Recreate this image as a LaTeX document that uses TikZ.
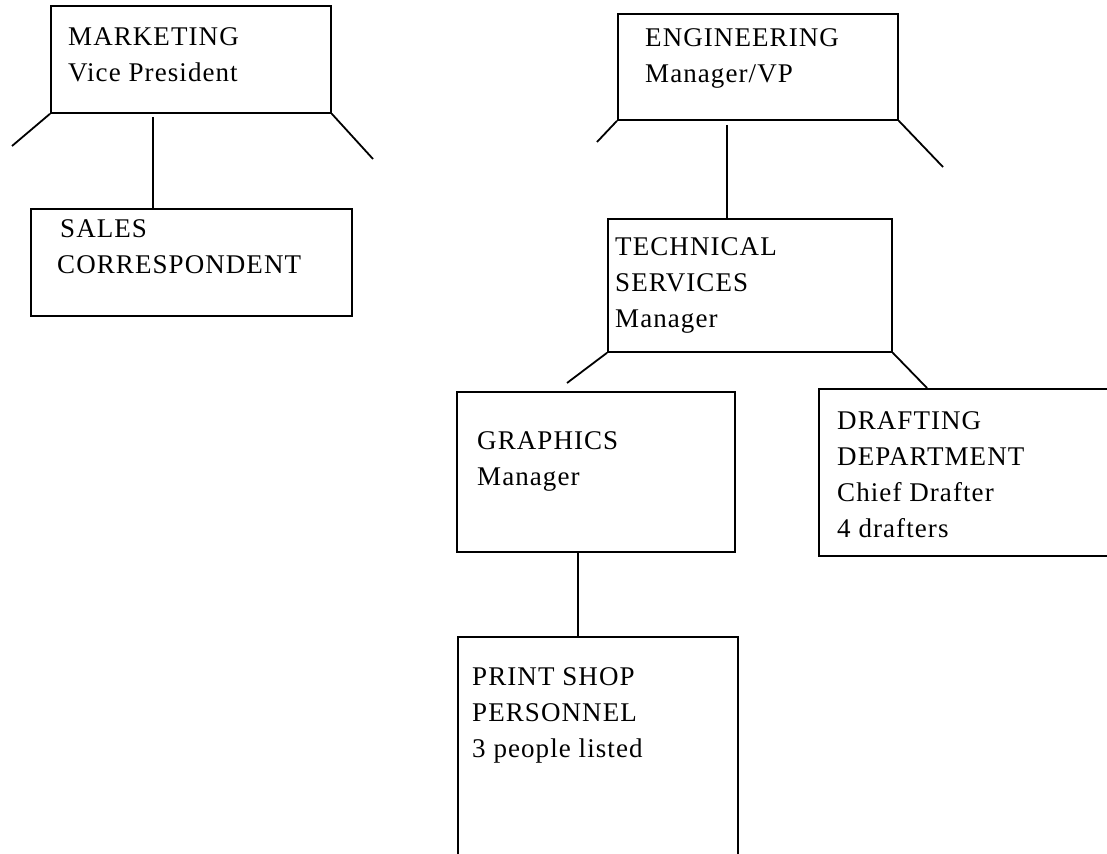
\documentclass[tikz,border=0pt]{standalone}
\usepackage{fontspec}
\newfontfamily\lbfont{Liberation Serif}[LetterSpace=4]
\begin{document}
\begin{tikzpicture}[x=1pt,y=-1pt,
  box/.style={draw, line width=1.8pt, inner sep=0pt, anchor=north west},
  lbl/.style={anchor=base west, align=left, inner sep=0pt, font=\lbfont\fontsize{27}{36}\selectfont},
  link/.style={line width=1.8pt}]
\useasboundingbox (0,0) rectangle (1107,853);
\clip (0,0) rectangle (1107,853);
% boxes
\node[box, minimum width=280pt, minimum height=107pt] (mkt) at (50,5) {};
\node[box, minimum width=321pt, minimum height=107pt] (sales) at (30,208) {};
\node[box, minimum width=280pt, minimum height=106pt] (eng) at (617,13) {};
\node[box, minimum width=284pt, minimum height=133pt] (tech) at (607,218) {};
\node[box, minimum width=278pt, minimum height=160pt] (graph) at (456,391) {};
\node[box, minimum width=310pt, minimum height=167pt] (draft) at (818,388) {};
\node[box, minimum width=280pt, minimum height=240pt] (print) at (457,636) {};
% labels (anchored at the baseline of the last line)
\node[lbl] (tmkt) at (68,82) {MARKETING\\Vice President};
\node[lbl] (tsales) at (57,273) {\hspace{3pt}SALES\\CORRESPONDENT};
\node[lbl] (teng) at (645,83) {ENGINEERING\\Manager/VP};
\node[lbl] (ttech) at (615,327) {TECHNICAL\\SERVICES\\Manager};
\node[lbl] (tgraph) at (477,485) {GRAPHICS\\Manager};
\node[lbl] (tdraft) at (837,537) {DRAFTING\\DEPARTMENT\\Chief Drafter\\4 drafters};
\node[lbl] (tprint) at (472,757) {PRINT SHOP\\PERSONNEL\\3 people listed};
% stub ends
\coordinate (mL) at (12,146);
\coordinate (mR) at (373,159);
\coordinate (mV) at (153,117);
\coordinate (eL) at (597,142);
\coordinate (eR) at (943,167);
\coordinate (eV) at (727,125);
\coordinate (tL) at (567,383);
\coordinate (tR) at (927,388);
\coordinate (gV) at (578,551);
% connectors
\draw[link] (mkt.south west) -- (mL);
\draw[link] (mkt.south east) -- (mR);
\draw[link] (mV) -- (mV |- sales.north);
\draw[link] (eng.south west) -- (eL);
\draw[link] (eng.south east) -- (eR);
\draw[link] (eV) -- (eV |- tech.north);
\draw[link] (tech.south west) -- (tL);
\draw[link] (tech.south east) -- (tR);
\draw[link] (gV) -- (gV |- print.north);
\end{tikzpicture}
\end{document}
